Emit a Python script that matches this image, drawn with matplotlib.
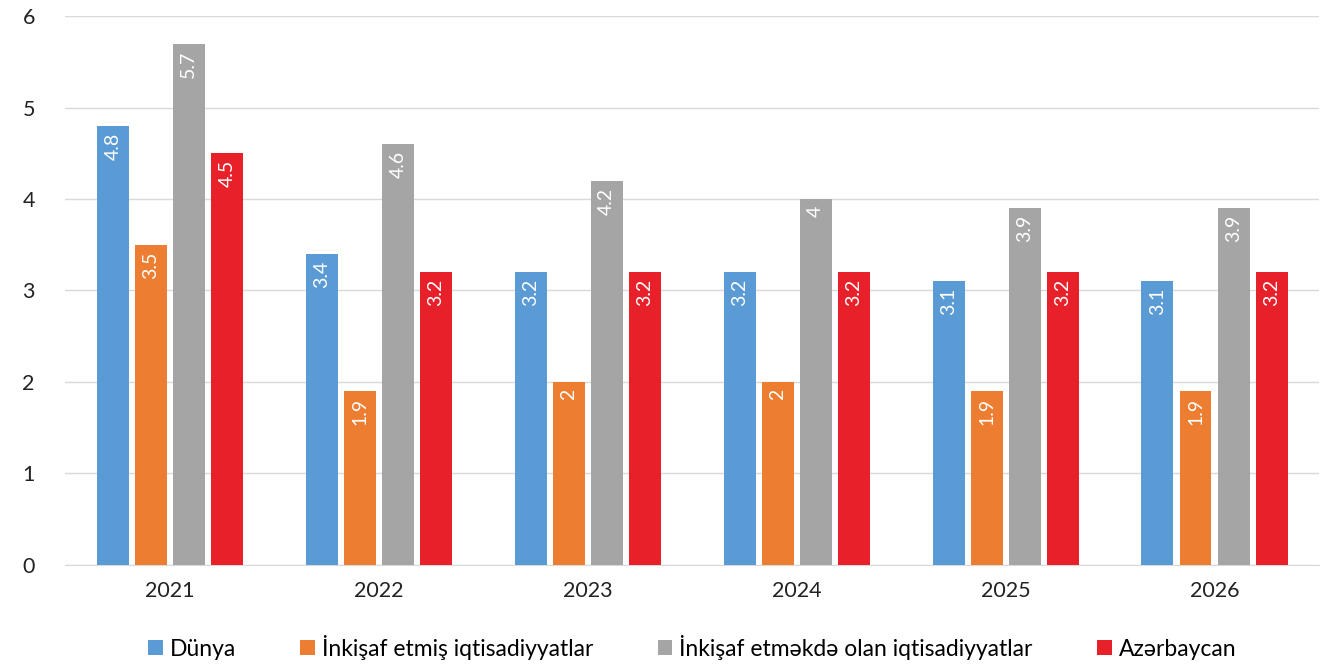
import matplotlib.pyplot as plt
import numpy as np

plt.rcParams['font.family'] = ['Lato', 'DejaVu Sans']

# data
years = ['2021', '2022', '2023', '2024', '2025', '2026']
dunya = [4.8, 3.4, 3.2, 3.2, 3.1, 3.1]
inkisaf_etmis = [3.5, 1.9, 2, 2, 1.9, 1.9]
inkisaf_etmekde = [5.7, 4.6, 4.2, 4, 3.9, 3.9]
azerbaycan = [4.5, 3.2, 3.2, 3.2, 3.2, 3.2]

series = [
    ('Dünya', dunya, '#5B9BD5'),
    ('İnkişaf etmiş iqtisadiyyatlar', inkisaf_etmis, '#ED7D31'),
    ('İnkişaf etməkdə olan iqtisadiyyatlar', inkisaf_etmekde, '#A5A5A5'),
    ('Azərbaycan', azerbaycan, '#E8202A'),
]

fig = plt.figure(figsize=(13.35, 6.7), dpi=100)
ax = fig.add_axes([0.049, 0.157, 0.939, 0.819])

x = np.arange(len(years))
w = 0.153
step = 0.182
for k, (name, vals, col) in enumerate(series):
    pos = x + (k - 1.5) * step
    bars = ax.bar(pos, vals, width=w, color=col, label=name, zorder=3)
    for b, v in zip(bars, vals):
        ax.annotate(f'{v:g}', (b.get_x() + b.get_width() / 2, v),
                    xytext=(0, -5), textcoords='offset points',
                    ha='center', va='top', rotation=90,
                    color='white', fontsize=14)

ax.set_xlim(-0.5, 5.5)
ax.set_ylim(0, 6)
ax.set_yticks(range(7))
ax.set_xticks(x)
ax.set_xticklabels(years)
ax.tick_params(axis='both', length=0, labelsize=15.5, colors='#222222')
ax.tick_params(axis='y', pad=22)
ax.tick_params(axis='x', pad=12)
ax.grid(axis='y', color='#D9D9D9', linewidth=1, zorder=0)
for s in ['top', 'right', 'left']:
    ax.spines[s].set_visible(False)
ax.spines['bottom'].set_color('#D9D9D9')

ax.legend(loc='upper center', bbox_to_anchor=(0.5, -0.098), ncol=4, frameon=False,
          fontsize=16.5, handlelength=0.65, handleheight=0.65, handletextpad=0.3,
          columnspacing=2.8, borderaxespad=0.3)

plt.savefig('out.png', dpi=100)
